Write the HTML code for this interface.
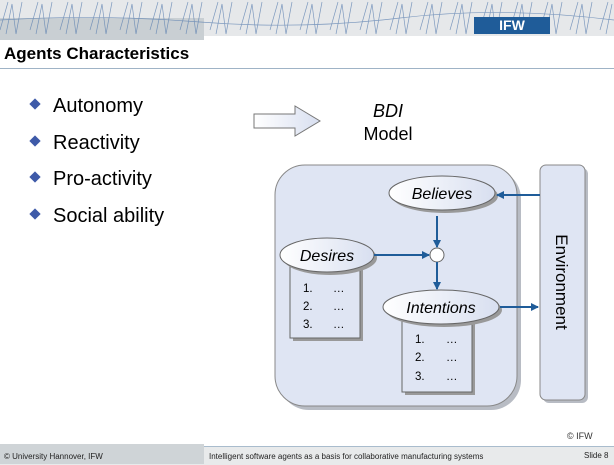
<!DOCTYPE html>
<html><head><meta charset="utf-8"><style>
body{margin:0;width:614px;height:464px;overflow:hidden;background:#fff;font-family:"Liberation Sans",sans-serif;position:relative}
.a{position:absolute}
.d{display:inline-block;width:8px;height:8px;background:#3e5aa8;transform:rotate(45deg);margin:0 14px 4px 3px}
</style></head><body>
<div class="a" style="left:0;top:0;width:614px;height:36px;background:#e6e8ea"></div>
<div class="a" style="left:0;top:18px;width:204px;height:22px;background:#c9cfd3"></div>
<svg class="a" style="left:0;top:0" width="614" height="36">
<g stroke="#5a7fb0" stroke-width="0.7" fill="none" opacity="0.75">
<path d="M0 30 L8 2 M6 34 L12 4 L16 34 L22 2 M30 30 L38 2 M36 34 L42 4 L46 34 L52 2 M60 30 L68 2 M66 34 L72 4 L76 34 L82 2 M90 30 L98 2 M96 34 L102 4 L106 34 L112 2 M120 30 L128 2 M126 34 L132 4 L136 34 L142 2 M150 30 L158 2 M156 34 L162 4 L166 34 L172 2 M180 30 L188 2 M186 34 L192 4 L196 34 L202 2 M210 30 L218 2 M216 34 L222 4 L226 34 L232 2 M240 30 L248 2 M246 34 L252 4 L256 34 L262 2 M270 30 L278 2 M276 34 L282 4 L286 34 L292 2 M300 30 L308 2 M306 34 L312 4 L316 34 L322 2 M330 30 L338 2 M336 34 L342 4 L346 34 L352 2 M360 30 L368 2 M366 34 L372 4 L376 34 L382 2 M390 30 L398 2 M396 34 L402 4 L406 34 L412 2 M420 30 L428 2 M426 34 L432 4 L436 34 L442 2 M450 30 L458 2 M456 34 L462 4 L466 34 L472 2 M480 30 L488 2 M486 34 L492 4 L496 34 L502 2 M510 30 L518 2 M516 34 L522 4 L526 34 L532 2 M540 30 L548 2 M546 34 L552 4 L556 34 L562 2 M570 30 L578 2 M576 34 L582 4 L586 34 L592 2 M600 30 L608 2 M606 34 L612 4"/>
<path d="M0 20 Q100 14 200 22 T400 18 T614 20"/>
</g></svg>
<div class="a" style="left:474px;top:17px;width:76px;height:17px;background:#1f5c99;color:#fff;font-weight:bold;font-size:14px;line-height:17px;text-align:center">IFW</div>
<div class="a" style="left:4px;top:44px;font-size:17px;font-weight:bold;color:#000">Agents Characteristics</div>
<div class="a" style="left:0;top:68px;width:614px;height:1px;background:#9fb3c6"></div>

<div class="a" style="left:28px;top:88px;font-size:20px;line-height:36.5px;color:#000">
<div><span class="d"></span>Autonomy</div>
<div><span class="d"></span>Reactivity</div>
<div><span class="d"></span>Pro-activity</div>
<div><span class="d"></span>Social ability</div>
</div>

<svg class="a" style="left:0;top:0" width="614" height="464" font-family="Liberation Sans, sans-serif">
<defs>
<marker id="m" markerWidth="8" markerHeight="8" refX="7" refY="4" orient="auto" markerUnits="userSpaceOnUse"><path d="M0 0 L8 4 L0 8 z" fill="#1f5c99"/></marker>
<linearGradient id="g" x1="0" x2="1"><stop offset="0" stop-color="#fff"/><stop offset="1" stop-color="#d8dff0"/></linearGradient>
</defs>
<path d="M254 114 H295 V106 L320 121 L295 136 V128 H254 Z" fill="url(#g)" stroke="#777"/>
<text x="388" y="117" font-size="18" font-style="italic" text-anchor="middle">BDI</text>
<text x="388" y="140" font-size="18" text-anchor="middle">Model</text>
<rect x="279" y="169" width="242" height="241" rx="30" fill="#b8bcc4"/>
<rect x="275" y="165" width="242" height="241" rx="30" fill="#dfe5f3" stroke="#888"/>
<rect x="543" y="168" width="45" height="235" rx="6" fill="#b8bcc4"/>
<rect x="540" y="165" width="45" height="235" rx="6" fill="#dfe5f3" stroke="#888"/>
<text transform="translate(556,282) rotate(90)" font-size="17" text-anchor="middle">Environment</text>
<rect x="293" y="268" width="70" height="73" fill="#999"/>
<rect x="290" y="265" width="70" height="73" fill="#dfe5f3" stroke="#666"/>
<rect x="405" y="321" width="70" height="74" fill="#999"/>
<rect x="402" y="318" width="70" height="74" fill="#dfe5f3" stroke="#666"/>
<g font-size="11.5">
<text x="303" y="292">1.</text><text x="333" y="292">…</text>
<text x="303" y="310">2.</text><text x="333" y="310">…</text>
<text x="303" y="328">3.</text><text x="333" y="328">…</text>
<text x="415" y="343">1.</text><text x="446" y="343">…</text>
<text x="415" y="361">2.</text><text x="446" y="361">…</text>
<text x="415" y="380">3.</text><text x="446" y="380">…</text>
</g>
<ellipse cx="445" cy="196" rx="53" ry="17" fill="#999"/>
<ellipse cx="442" cy="193" rx="53" ry="17" fill="url(#g)" stroke="#666"/>
<text x="442" y="199" font-size="16" font-style="italic" text-anchor="middle">Believes</text>
<ellipse cx="330" cy="258" rx="47" ry="17" fill="#999"/>
<ellipse cx="327" cy="255" rx="47" ry="17" fill="url(#g)" stroke="#666"/>
<text x="327" y="261" font-size="16" font-style="italic" text-anchor="middle">Desires</text>
<ellipse cx="444" cy="310" rx="58" ry="17" fill="#999"/>
<ellipse cx="441" cy="307" rx="58" ry="17" fill="url(#g)" stroke="#666"/>
<text x="441" y="313" font-size="16" font-style="italic" text-anchor="middle">Intentions</text>
<circle cx="437" cy="255" r="7" fill="#fff" stroke="#666"/>
<g stroke="#1f5c99" stroke-width="2" fill="none">
<path d="M540 195 H497" marker-end="url(#m)"/>
<path d="M437 216 V247" marker-end="url(#m)"/>
<path d="M374 255 H429" marker-end="url(#m)"/>
<path d="M437 262 V289" marker-end="url(#m)"/>
<path d="M500 307 H538" marker-end="url(#m)"/>
</g>
<text x="567" y="439" font-size="9" fill="#333">© IFW</text>
</svg>
<div class="a" style="left:0;top:446px;width:614px;height:18px;background:#e8eaeb;border-top:1px solid #a9bccd"></div>
<div class="a" style="left:0;top:444px;width:204px;height:20px;background:#cfd4d7"></div>
<div class="a" style="left:4px;top:452px;font-size:8px;color:#222">© University Hannover, IFW</div>
<div class="a" style="left:209px;top:452px;font-size:8px;color:#222">Intelligent software agents as a basis for collaborative manufacturing systems</div>
<div class="a" style="left:584px;top:451px;font-size:8px;color:#222">Slide 8</div>
</body></html>
